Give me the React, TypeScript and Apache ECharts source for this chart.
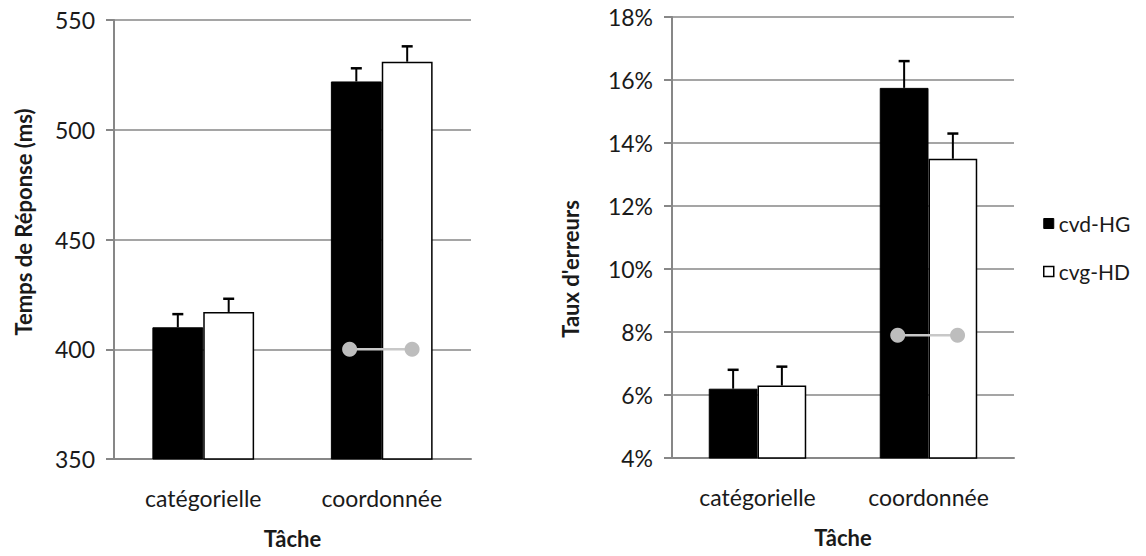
import React, { useEffect, useRef } from "react";
import * as echarts from "echarts";

const categories = ["catégorielle", "coordonnée"];
const seriesNames = ["cvd-HG", "cvg-HD"];

// Temps de réponse (ms)
const rtCvdHG = [410, 522];
const rtCvdHGErr = [6, 6];
const rtCvgHD = [417, 531];
const rtCvgHDErr = [6, 7];
const rtMarker = [[0.82, 400], [1.17, 400]];
const rtTicks = { min: 350, max: 550, interval: 50 };

// Taux d'erreurs (%)
const erCvdHG = [6.2, 15.75];
const erCvdHGErr = [0.6, 0.85];
const erCvgHD = [6.3, 13.5];
const erCvgHDErr = [0.6, 0.8];
const erMarker = [[0.82, 7.9], [1.17, 7.9]];
const erTicks = { min: 4, max: 18, interval: 2 };

const FONT = "Lato";
const TXT = "#1a1a1a";
const AXIS = "#878787";
const GAP = 0.43;

function errorRenderer(side: number) {
  return (params: any, api: any) => {
    const cat = api.value(0);
    const val = api.value(1);
    const err = api.value(2);
    const base = api.coord([cat, val]);
    const top = api.coord([cat, val + err]);
    const bandW = api.size([1, 0])[0];
    const barW = (bandW * (1 - GAP)) / 2;
    const x = base[0] + (side * barW) / 2;
    const st = { stroke: "#000", lineWidth: 2 };
    return {
      type: "group",
      children: [
        { type: "line", shape: { x1: x, y1: base[1], x2: x, y2: top[1] }, style: st },
        { type: "line", shape: { x1: x - 5.5, y1: top[1], x2: x + 5.5, y2: top[1] }, style: { stroke: "#000", lineWidth: 2.5 } },
      ],
    };
  };
}

function catAxis(gridIndex: number) {
  return {
    type: "category",
    gridIndex,
    data: categories,
    name: "Tâche",
    nameLocation: "middle",
    nameGap: 68,
    nameTextStyle: { fontFamily: FONT, fontSize: 22, fontWeight: "bold", color: TXT },
    axisLine: { onZero: false, lineStyle: { color: AXIS, width: 2 } },
    axisTick: { length: 7, lineStyle: { color: AXIS, width: 2 } },
    axisLabel: { margin: 27, fontFamily: FONT, fontSize: 23, color: TXT },
  };
}

function valAxis(gridIndex: number, t: any, pct: boolean) {
  return {
    type: "value",
    gridIndex,
    min: t.min,
    max: t.max,
    interval: t.interval,
    axisLine: { show: true, onZero: false, lineStyle: { color: AXIS, width: 2 } },
    axisTick: { show: true, length: 8, lineStyle: { color: AXIS, width: 2 } },
    axisLabel: {
      margin: 19,
      fontFamily: FONT,
      fontSize: 23,
      color: TXT,
      formatter: pct ? (v: number) => `${Math.round(v)}%` : undefined,
    },
    splitLine: { lineStyle: { color: AXIS, width: 1.5 } },
  };
}

function hiddenX(gridIndex: number) {
  return { type: "value", gridIndex, min: -0.5, max: 1.5, show: false, splitLine: { show: false } };
}

function seriesFor(g: number, a: number[], aErr: number[], b: number[], bErr: number[], marker: number[][]) {
  return [
    {
      name: seriesNames[0],
      type: "bar",
      xAxisIndex: g,
      yAxisIndex: g,
      data: a,
      barGap: "0%",
      barCategoryGap: `${GAP * 100}%`,
      itemStyle: { color: "#000", borderColor: "#000", borderWidth: 1 },
    },
    {
      name: seriesNames[1],
      type: "bar",
      xAxisIndex: g,
      yAxisIndex: g,
      data: b,
      barGap: "0%",
      barCategoryGap: `${GAP * 100}%`,
      itemStyle: { color: "#fff", borderColor: "#000", borderWidth: 1.5 },
    },
    {
      type: "custom",
      xAxisIndex: g,
      yAxisIndex: g,
      z: 5,
      renderItem: errorRenderer(-1),
      data: a.map((v, i) => [i, v, aErr[i]]),
    },
    {
      type: "custom",
      xAxisIndex: g,
      yAxisIndex: g,
      z: 5,
      renderItem: errorRenderer(1),
      data: b.map((v, i) => [i, v, bErr[i]]),
    },
    {
      type: "line",
      xAxisIndex: g + 2,
      yAxisIndex: g,
      z: 6,
      data: marker,
      symbol: "circle",
      symbolSize: 15,
      lineStyle: { color: "#c8c8c8", width: 2.5 },
      itemStyle: { color: "#bdbdbd" },
    },
  ];
}

export default function App() {
  const ref = useRef<HTMLDivElement>(null);
  useEffect(() => {
    if (!ref.current) return;
    const chart = echarts.init(ref.current, undefined, { renderer: "svg" });
    chart.setOption({
      animation: false,
      backgroundColor: "#fff",
      grid: [
        { left: 114, top: 20, width: 357, height: 439 },
        { left: 672, top: 17, width: 342, height: 441 },
      ],
      xAxis: [catAxis(0), catAxis(1), hiddenX(0), hiddenX(1)],
      yAxis: [valAxis(0, rtTicks, false), valAxis(1, erTicks, true)],
      legend: {
        orient: "vertical",
        left: 1038,
        top: 208,
        itemWidth: 10,
        itemHeight: 10,
        itemGap: 27,
        icon: "rect",
        textStyle: { fontFamily: FONT, fontSize: 21, color: TXT },
        data: [
          { name: seriesNames[0], itemStyle: { color: "#000", borderColor: "#000", borderWidth: 1 } },
          { name: seriesNames[1], itemStyle: { color: "#fff", borderColor: "#000", borderWidth: 1.5 } },
        ],
      },
      graphic: [
        {
          type: "text",
          x: 23,
          y: 222,
          rotation: Math.PI / 2,
          style: {
            text: "Temps de Réponse (ms)",
            fontFamily: FONT,
            fontSize: 22,
            fontWeight: "bold",
            fill: TXT,
            align: "center",
            verticalAlign: "middle",
          },
        },
        {
          type: "text",
          x: 570,
          y: 269,
          rotation: Math.PI / 2,
          style: {
            text: "Taux d'erreurs",
            fontFamily: FONT,
            fontSize: 22,
            fontWeight: "bold",
            fill: TXT,
            align: "center",
            verticalAlign: "middle",
          },
        },
      ],
      series: [
        ...seriesFor(0, rtCvdHG, rtCvdHGErr, rtCvgHD, rtCvgHDErr, rtMarker),
        ...seriesFor(1, erCvdHG, erCvdHGErr, erCvgHD, erCvgHDErr, erMarker),
      ],
    });
    return () => chart.dispose();
  }, []);
  return (
    <div
      ref={ref}
      style={{ position: "absolute", left: 0, top: 0, width: 1146, height: 556 }}
    />
  );
}
